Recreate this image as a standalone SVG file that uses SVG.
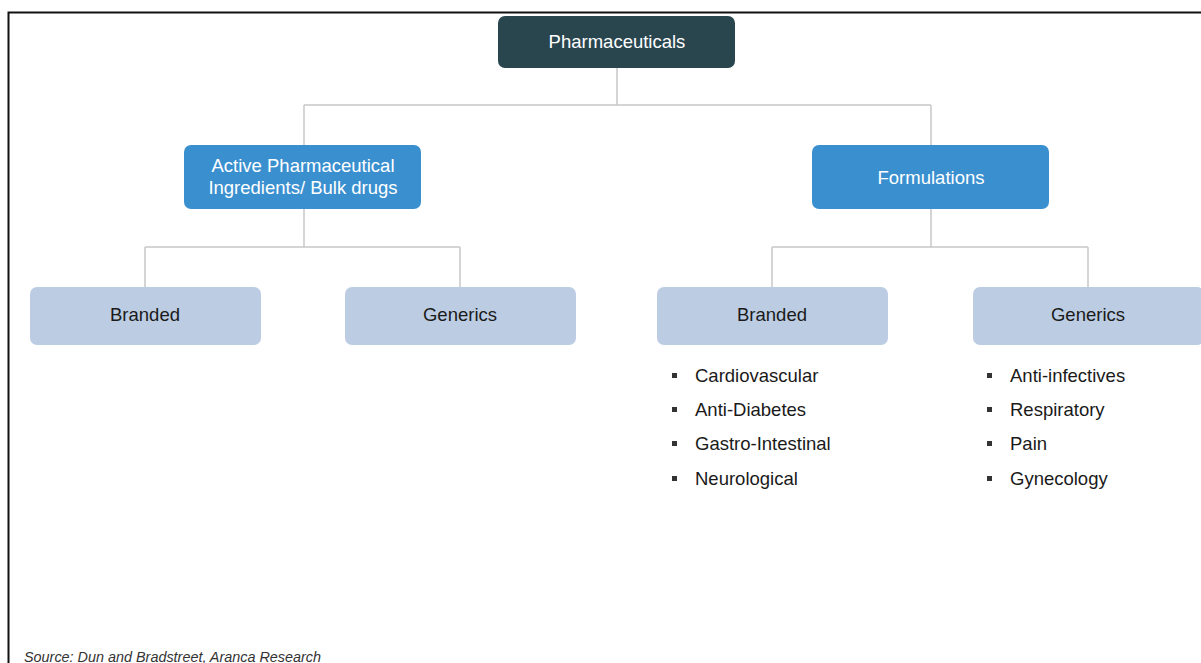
<svg xmlns="http://www.w3.org/2000/svg" width="1201" height="663" viewBox="0 0 1201 663">
<style>
.t{font-family:"Liberation Sans",Arial,sans-serif;font-size:18.5px;text-anchor:middle}
.w{fill:#ffffff}
.d{fill:#1a1a1a}
.b{font-family:"Liberation Sans",Arial,sans-serif;font-size:18.5px;fill:#1a1a1a}
.c{fill:none;stroke:#c8c8c8;stroke-width:1.5}
.leaf{fill:#bccde3}
.mid{fill:#3a90cf}
.sq{fill:#333333}
</style>
<rect x="0" y="0" width="1201" height="663" fill="#ffffff"/>
<path d="M8.5 663 V12.5 H1201" fill="none" stroke="#111" stroke-width="2"/>
<g id="connectors">
<path class="c" d="M617 68 V105 M304 105 H931 M304 105 V145 M931 105 V145"/>
<path class="c" d="M304 209 V247 M145 247 H460 M145 247 V287 M460 247 V287"/>
<path class="c" d="M931 209 V247 M772 247 H1088 M772 247 V287 M1088 247 V287"/>
</g>
<g id="pharma"><rect x="498" y="16" width="237" height="52" rx="7" fill="#29464f"/><text class="t w" x="617" y="48">Pharmaceuticals</text></g>
<g id="api"><rect class="mid" x="184" y="145" width="237" height="64" rx="7"/><text class="t w" x="303" y="172">Active Pharmaceutical</text><text class="t w" x="303" y="194">Ingredients/ Bulk drugs</text></g>
<g id="formulations"><rect class="mid" x="812" y="145" width="237" height="64" rx="7"/><text class="t w" x="931" y="184">Formulations</text></g>
<g id="api-branded"><rect class="leaf" x="30" y="287" width="231" height="58" rx="7"/><text class="t d" x="145" y="321">Branded</text></g>
<g id="api-generics"><rect class="leaf" x="345" y="287" width="231" height="58" rx="7"/><text class="t d" x="460" y="321">Generics</text></g>
<g id="form-branded"><rect class="leaf" x="657" y="287" width="231" height="58" rx="7"/><text class="t d" x="772" y="321">Branded</text>
<rect class="sq" x="672" y="373" width="5" height="5"/><text class="b" x="695" y="382">Cardiovascular</text>
<rect class="sq" x="672" y="407" width="5" height="5"/><text class="b" x="695" y="416">Anti-Diabetes</text>
<rect class="sq" x="672" y="441" width="5" height="5"/><text class="b" x="695" y="450">Gastro-Intestinal</text>
<rect class="sq" x="672" y="476" width="5" height="5"/><text class="b" x="695" y="485">Neurological</text>
</g>
<g id="form-generics"><rect class="leaf" x="973" y="287" width="231" height="58" rx="7"/><text class="t d" x="1088" y="321">Generics</text>
<rect class="sq" x="987" y="373" width="5" height="5"/><text class="b" x="1010" y="382">Anti-infectives</text>
<rect class="sq" x="987" y="407" width="5" height="5"/><text class="b" x="1010" y="416">Respiratory</text>
<rect class="sq" x="987" y="441" width="5" height="5"/><text class="b" x="1010" y="450">Pain</text>
<rect class="sq" x="987" y="476" width="5" height="5"/><text class="b" x="1010" y="485">Gynecology</text>
</g>
<text x="24" y="662" font-family="'Liberation Sans',Arial,sans-serif" font-size="14.4px" font-style="italic" fill="#333">Source: Dun and Bradstreet, Aranca Research</text>
</svg>
